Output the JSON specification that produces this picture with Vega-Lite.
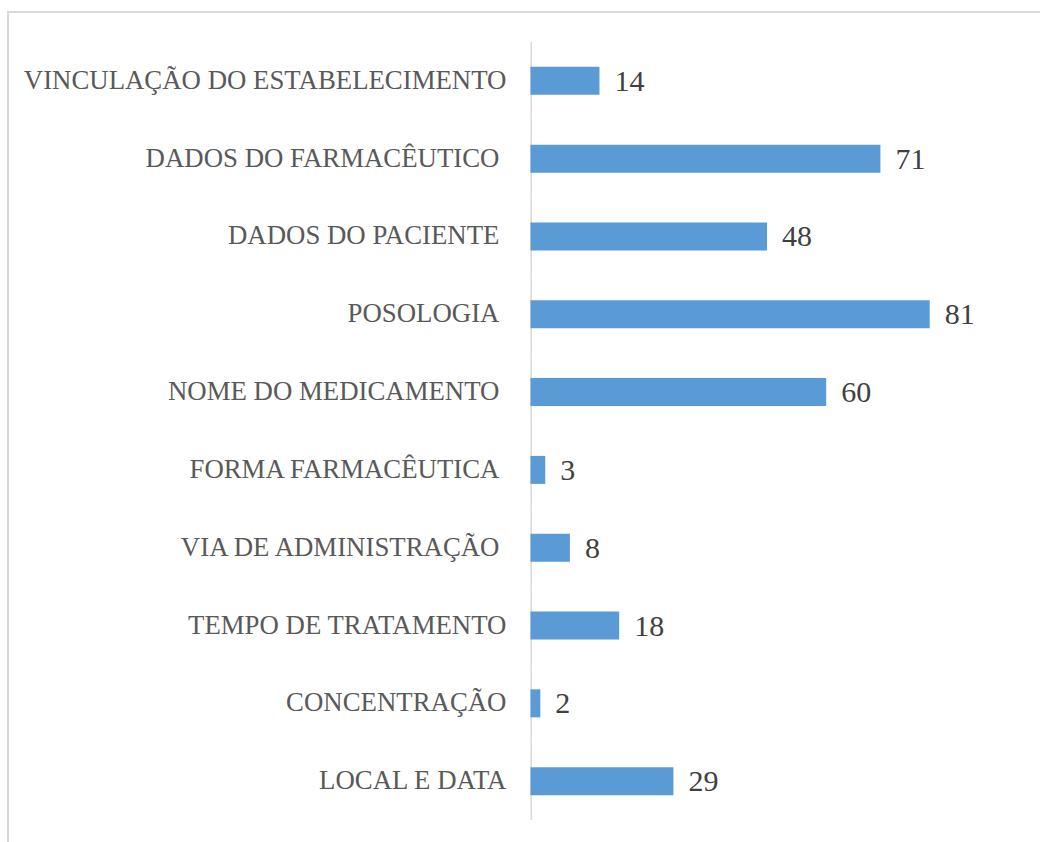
{
  "$schema": "https://vega.github.io/schema/vega-lite/v6.json",
  "autosize": "none",
  "padding": {"left": 8, "top": 12, "right": 0, "bottom": 0},
  "width": 1040,
  "height": 838,
  "background": "white",
  "config": {
    "view": {"stroke": "#d9d9d9", "strokeWidth": 2},
    "font": "Liberation Serif"
  },
  "data": {
    "values": [
      {"item": "VINCULAÇÃO DO ESTABELECIMENTO", "count": 14},
      {"item": "DADOS DO FARMACÊUTICO", "count": 71},
      {"item": "DADOS DO PACIENTE", "count": 48},
      {"item": "POSOLOGIA", "count": 81},
      {"item": "NOME DO MEDICAMENTO", "count": 60},
      {"item": "FORMA FARMACÊUTICA", "count": 3},
      {"item": "VIA DE ADMINISTRAÇÃO", "count": 8},
      {"item": "TEMPO DE TRATAMENTO", "count": 18},
      {"item": "CONCENTRAÇÃO", "count": 2},
      {"item": "LOCAL E DATA", "count": 29}
    ]
  },
  "resolve": {"scale": {"y": "independent"}},
  "layer": [
    {
      "mark": {"type": "bar", "color": "#d9d9d9"},
      "encoding": {
        "x": {"datum": 0, "type": "quantitative",
              "scale": {"domain": [-106, 105], "nice": false, "zero": false}},
        "x2": {"datum": 0.3},
        "y": {"field": "item", "type": "nominal", "sort": null, "axis": null,
              "scale": {"paddingInner": 0, "paddingOuter": 0.386}}
      }
    },
    {
      "layer": [
        {
          "mark": {"type": "bar", "color": "#5B9BD5"},
          "encoding": {
            "y": {"field": "item", "type": "nominal", "sort": null, "axis": null,
                  "scale": {"paddingInner": 0.64, "paddingOuter": 0.705}},
            "x": {"field": "count", "type": "quantitative", "axis": null,
                  "scale": {"domain": [-106, 105], "nice": false, "zero": false}}
          }
        },
        {
          "transform": [{"filter": {"field": "item", "oneOf": ["VINCULAÇÃO DO ESTABELECIMENTO", "TEMPO DE TRATAMENTO", "CONCENTRAÇÃO", "LOCAL E DATA"]}}],
          "mark": {"type": "text", "align": "right", "baseline": "middle", "dx": -24, "fontSize": 26.8, "color": "#595959"},
          "encoding": {
            "y": {"field": "item", "type": "nominal", "sort": null},
            "x": {"datum": 0, "type": "quantitative"},
            "text": {"field": "item"}
          }
        },
        {
          "transform": [{"filter": {"not": {"field": "item", "oneOf": ["VINCULAÇÃO DO ESTABELECIMENTO", "TEMPO DE TRATAMENTO", "CONCENTRAÇÃO", "LOCAL E DATA"]}}}],
          "mark": {"type": "text", "align": "right", "baseline": "middle", "dx": -31, "fontSize": 26.8, "color": "#595959"},
          "encoding": {
            "y": {"field": "item", "type": "nominal", "sort": null},
            "x": {"datum": 0, "type": "quantitative"},
            "text": {"field": "item"}
          }
        },
        {
          "mark": {"type": "text", "align": "left", "baseline": "middle", "dx": 15, "dy": 1, "fontSize": 30, "color": "#404040"},
          "encoding": {
            "y": {"field": "item", "type": "nominal", "sort": null},
            "x": {"field": "count", "type": "quantitative"},
            "text": {"field": "count"}
          }
        }
      ]
    }
  ]
}
